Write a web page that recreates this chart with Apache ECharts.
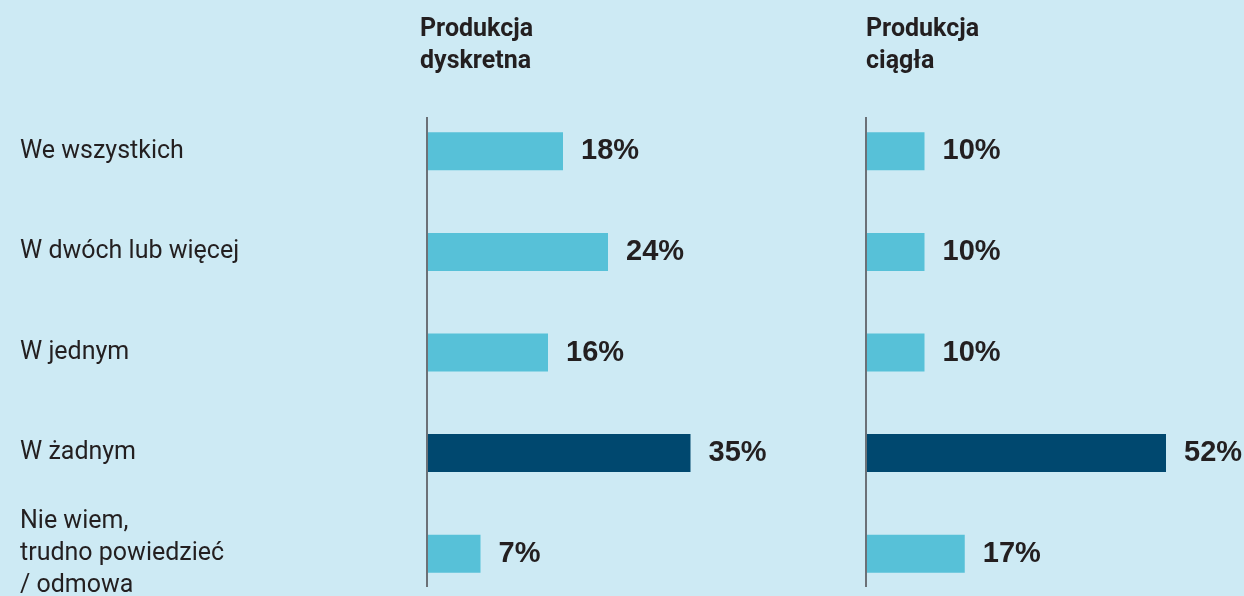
<!DOCTYPE html>
<html>
<head>
<meta charset="utf-8">
<script src="https://cdn.jsdelivr.net/npm/echarts@6/dist/echarts.min.js"></script>
<style>
  html, body { margin: 0; padding: 0; background: #cdeaf4; }
  #chart { width: 1244px; height: 596px; }
</style>
</head>
<body>
<div id="chart"></div>
<script>
// Row labels (top to bottom)
const categories = [
  'We wszystkich',
  'W dwóch lub więcej',
  'W jednym',
  'W żadnym',
  'Nie wiem,\ntrudno powiedzieć\n/ odmowa'
];

// Panel headings
const panelTitles = ['Produkcja\ndyskretna', 'Produkcja\nciągła'];

// Shares in percent, one array per panel
const discreteValues = [18, 24, 16, 35, 7];
const continuousValues = [10, 10, 10, 52, 17];

// The row drawn in the dark accent colour
const accentCategory = 'W żadnym';

const LIGHT = '#57c1d8';
const DARK = '#00486f';
const TEXT = '#231f20';

function barData(values) {
  return values.map((v, i) => ({
    value: v,
    itemStyle: { color: categories[i] === accentCategory ? DARK : LIGHT }
  }));
}

const valueLabel = {
  show: true,
  position: 'right',
  distance: 18,
  formatter: p => p.value + '%',
  fontFamily: 'Liberation Sans',
  fontWeight: 'bold',
  fontSize: 29,
  color: TEXT,
  padding: [9, 0, 0, 0]
};

const titleStyle = {
  fontFamily: 'Roboto',
  fontWeight: 'bold',
  fontSize: 25,
  lineHeight: 32,
  color: TEXT
};

const option = {
  backgroundColor: '#cdeaf4',
  animation: false,
  title: [
    { text: panelTitles[0], left: 420, top: 14, padding: 0, textStyle: titleStyle },
    { text: panelTitles[1], left: 866, top: 14, padding: 0, textStyle: titleStyle }
  ],
  grid: [
    { left: 428, top: 101, width: 375, height: 503, outerBoundsMode: 'none' },
    { left: 867, top: 101, width: 345, height: 503, outerBoundsMode: 'none' }
  ],
  xAxis: [
    { gridIndex: 0, type: 'value', min: 0, max: 50, show: false },
    { gridIndex: 1, type: 'value', min: 0, max: 60, show: false }
  ],
  yAxis: [
    {
      gridIndex: 0, type: 'category', data: categories, inverse: true,
      axisLine: { show: false }, axisTick: { show: false }, splitLine: { show: false },
      axisLabel: {
        align: 'left', margin: 408, fontFamily: 'Roboto', fontSize: 25,
        lineHeight: 32, color: TEXT, padding: [10, 0, 0, 0]
      }
    },
    {
      gridIndex: 1, type: 'category', data: categories, inverse: true,
      axisLine: { show: false }, axisTick: { show: false }, splitLine: { show: false },
      axisLabel: { show: false }
    }
  ],
  // Vertical baselines of the two panels
  graphic: [
    { type: 'line', shape: { x1: 427, y1: 117, x2: 427, y2: 587 }, style: { stroke: '#6b7177', lineWidth: 2 }, silent: true },
    { type: 'line', shape: { x1: 866, y1: 117, x2: 866, y2: 587 }, style: { stroke: '#6b7177', lineWidth: 2 }, silent: true }
  ],
  series: [
    {
      type: 'bar', xAxisIndex: 0, yAxisIndex: 0, barWidth: 38,
      data: barData(discreteValues), label: valueLabel
    },
    {
      type: 'bar', xAxisIndex: 1, yAxisIndex: 1, barWidth: 38,
      data: barData(continuousValues), label: valueLabel
    }
  ]
};

const chart = echarts.init(document.getElementById('chart'), null, { renderer: 'canvas' });
chart.setOption(option);
</script>
</body>
</html>
